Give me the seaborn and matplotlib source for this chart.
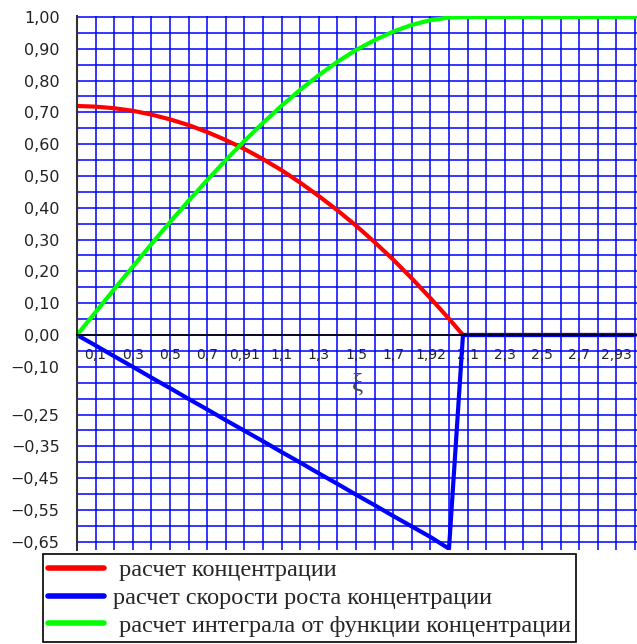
import numpy as np
import pandas as pd
import matplotlib
matplotlib.use("Agg")
import matplotlib.pyplot as plt
import seaborn as sns

# ---- data ----
xi = [0.0, 0.1, 0.2, 0.3, 0.4, 0.5, 0.6, 0.7, 0.8, 0.9, 1.0,
      1.1, 1.2, 1.3, 1.4, 1.5, 1.6, 1.7, 1.8, 1.9, 2.0, 2.075,
      2.2, 2.3, 2.4, 2.5, 2.6, 2.7, 2.8, 2.9, 3.0]
concentration = [0.720, 0.718, 0.713, 0.705, 0.693, 0.678, 0.660, 0.638, 0.613, 0.585, 0.553,
                 0.518, 0.479, 0.437, 0.392, 0.344, 0.292, 0.237, 0.178, 0.116, 0.051, 0.0,
                 0.0, 0.0, 0.0, 0.0, 0.0, 0.0, 0.0, 0.0, 0.0]
growth_rate = [0.0, -0.033, -0.067, -0.100, -0.134, -0.167, -0.201, -0.234, -0.268, -0.301, -0.334,
               -0.368, -0.401, -0.435, -0.468, -0.502, -0.535, -0.569, -0.602, -0.635, -0.672, 0.0,
               0.0, 0.0, 0.0, 0.0, 0.0, 0.0, 0.0, 0.0, 0.0]
integral = [0.0, 0.072, 0.144, 0.215, 0.286, 0.355, 0.422, 0.487, 0.550, 0.610, 0.667,
            0.721, 0.771, 0.817, 0.859, 0.896, 0.927, 0.954, 0.975, 0.990, 0.998, 1.0,
            1.0, 1.0, 1.0, 1.0, 1.0, 1.0, 1.0, 1.0, 1.0]

series_labels = [" расчет концентрации",
                 "расчет скорости роста концентрации",
                 " расчет интеграла от функции концентрации"]
series_colors = ["#FF0000", "#0000FF", "#00FF00"]

x_tick_values = [round(0.1 * i, 1) for i in range(31)]
x_tick_labels = ["", "0,1", "", "0,3", "", "0,5", "", "0,7", "", "0,91", "",
                 "1,1", "", "1,3", "", "1,5", "", "1,7", "", "1,92", "",
                 "2,1", "", "2,3", "", "2,5", "", "2,7", "", "2,93", ""]
y_tick_values = [round(1.0 - 0.05 * i, 2) for i in range(34)]
y_tick_labels = ["1,00", "", "0,90", "", "0,80", "", "0,70", "", "0,60", "",
                 "0,50", "", "0,40", "", "0,30", "", "0,20", "", "0,10", "",
                 "0,00", "", "\u22120,10", "", "", "\u22120,25", "", "\u22120,35", "",
                 "\u22120,45", "", "\u22120,55", "", "\u22120,65"]

df = pd.DataFrame({"xi": xi, "c": concentration, "v": growth_rate, "i": integral})

sns.set_style("white")
plt.rcParams["font.family"] = ["DejaVu Sans"]

W, H = 637, 644
fig = plt.figure(figsize=(W / 100, H / 100), dpi=100)
ax = fig.add_axes([77 / W, 1 - 550 / H, 560 / W, 534 / H])

for col, lab, colr in zip(["c", "v", "i"], series_labels, series_colors):
    sns.lineplot(data=df, x="xi", y=col, ax=ax, color=colr, linewidth=3.0,
                 label=lab, legend=False)

ax.set_xlim(0, 560 / 186)
ax.set_ylim(-0.676, 1.003)

ax.set_xticks(x_tick_values)
ax.set_xticklabels(x_tick_labels, fontfamily="Liberation Serif", fontsize=14.5, color="black")
ax.set_yticks(y_tick_values)
ax.set_yticklabels(y_tick_labels, fontfamily="DejaVu Sans", fontsize=11.5, color="#222222")

ax.grid(True, color="#0000FF", linewidth=1.1)
ax.set_axisbelow(True)

for s in ["top", "right"]:
    ax.spines[s].set_visible(False)
ax.spines["bottom"].set_position(("data", 0))
ax.spines["bottom"].set_color("black")
ax.spines["bottom"].set_linewidth(1.2)
ax.spines["left"].set_color("#333333")
ax.spines["left"].set_linewidth(1.5)

ax.tick_params(axis="y", direction="out", length=6.5, width=1.2, color="#333333", pad=6)
ax.tick_params(axis="x", direction="out", length=6, width=1.2, color="#333333", pad=3)

ax.set_xlabel("ξ", fontfamily="Liberation Serif", fontsize=18, color="#444444")
ax.xaxis.set_label_coords(0.5, 0.33)
ax.set_ylabel("")

h, l = ax.get_legend_handles_labels()
leg = ax.legend(h, l, loc="lower left", bbox_to_anchor=(43 / W, 2 / H),
                bbox_transform=fig.transFigure, frameon=True, fancybox=False,
                edgecolor="black", framealpha=1, borderaxespad=0,
                prop={"family": "Liberation Serif", "size": 17.5},
                handlelength=2.3, handletextpad=0.35, labelspacing=0.23,
                borderpad=0.22)
leg.get_frame().set_linewidth(1.2)
for ln in leg.get_lines():
    ln.set_linewidth(4)

fig.savefig("out.png", dpi=100)
